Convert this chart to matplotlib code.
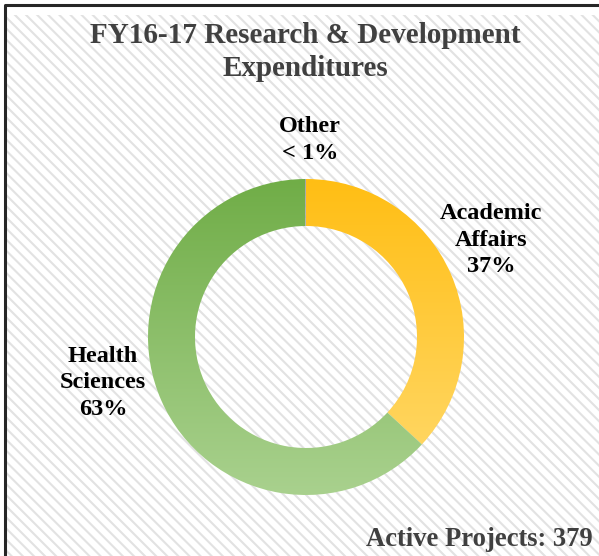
import numpy as np
import matplotlib
matplotlib.use('Agg')
import matplotlib.pyplot as plt
from matplotlib.patches import Wedge, Rectangle
from matplotlib.colors import to_rgb

plt.rcParams['font.family'] = ['Liberation Serif', 'DejaVu Serif']
plt.rcParams['hatch.linewidth'] = 1.5

# data
labels = ['Academic\nAffairs\n37%', 'Health\nSciences\n63%', 'Other\n< 1%']
shares = [36.9, 63.0, 0.1]
tops = ['#FFBE14', '#70AD47', '#A5A5A5']
bottoms = ['#FFDA6E', '#A9D18E', '#A5A5A5']
title = 'FY16-17 Research & Development\nExpenditures'
footer = 'Active Projects: 379'

W, H = 599, 556
fig = plt.figure(figsize=(W / 100, H / 100), dpi=100)
ax = fig.add_axes([0, 0, 1, 1])
ax.set_xlim(0, W)
ax.set_ylim(0, H)
ax.axis('off')

# hatched background + border
ax.add_patch(Rectangle((5, -5), W, H - 10, facecolor='white', edgecolor='#E2E2E2',
                       lw=0, hatch='\\\\\\', zorder=0))
ax.plot([5, 5, W], [0, H - 5, H - 5], color='#262626', lw=2.2, zorder=1,
        solid_capstyle='butt')

cx, cy = 306, H - 337
r_out, width = 158, 47

start = 90.0
for share, c_top, c_bot in zip(shares, tops, bottoms):
    sweep = 360 * share / 100
    w = Wedge((cx, cy), r_out, start - sweep, start, width=width,
              facecolor='none', edgecolor='none')
    ax.add_patch(w)
    t = np.linspace(0, 1, 256)[:, None]
    a, b = np.array(to_rgb(c_bot)), np.array(to_rgb(c_top))
    grad = (a + (b - a) * t)[:, None, :]
    im = ax.imshow(grad, extent=(cx - r_out, cx + r_out, cy - r_out, cy + r_out),
                   origin='lower', aspect='auto', zorder=2, interpolation='bilinear')
    im.set_clip_path(w)
    start -= sweep

ax.set_xlim(0, W)
ax.set_ylim(0, H)

ax.text(305, H - 52, title, ha='center', va='center', fontsize=21,
        fontweight='bold', color='#404040', linespacing=1.3)

label_pos = [(491, H - 240), (103, H - 383), (310, H - 140)]
for lab, (x, y) in zip(labels, label_pos):
    ax.text(x, y, lab, ha='center', va='center', fontsize=17.5, fontweight='bold',
            color='black', linespacing=1.35)

ax.text(593, H - 539, footer, ha='right', va='center', fontsize=19.2,
        fontweight='bold', color='#404040')

fig.savefig('out.png', dpi=100)
